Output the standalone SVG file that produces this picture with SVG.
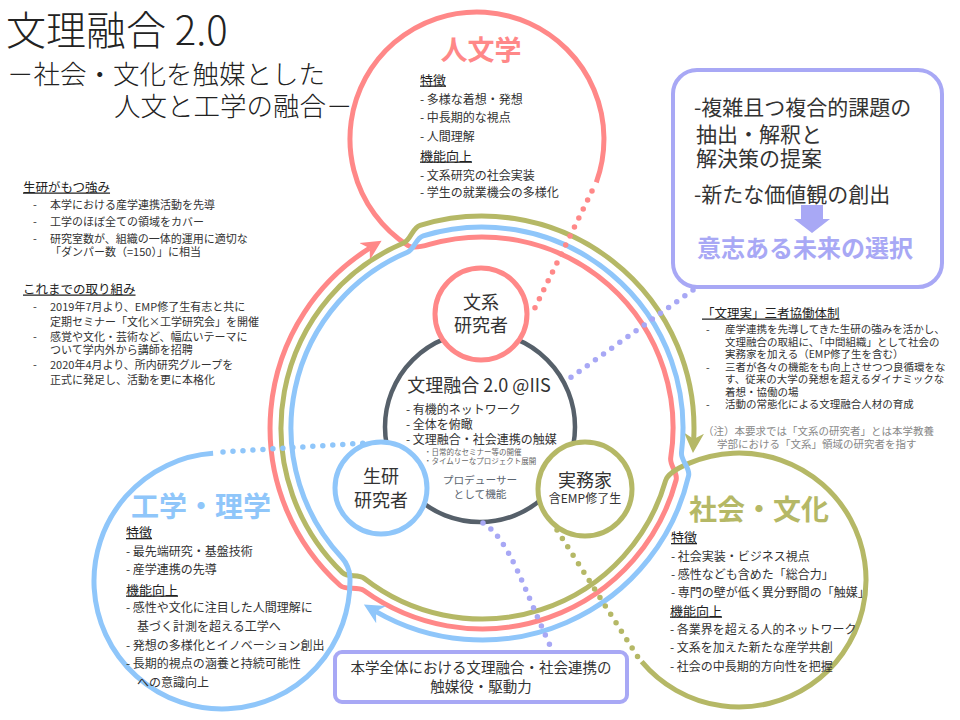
<svg xmlns="http://www.w3.org/2000/svg" width="960" height="720" viewBox="0 0 960 720">
<defs>
<style>
text{font-family:"Noto Sans CJK JP","Noto Sans",sans-serif;fill:#333}
.t{font-size:11px}
.h{font-size:12.5px;text-decoration:underline;fill:#222}
.s{font-size:12px}
.sh{font-size:13px;text-decoration:underline;fill:#222}
.sw{fill:none;stroke-width:5;stroke-linejoin:round}
.pk{stroke:#FF8888}
.gr{stroke:#B5B866}
.bl{stroke:#8FC6FA}
.lv{stroke:#A8A8F5}
.dot{fill:none;stroke-width:5.5;stroke-linecap:round;stroke-dasharray:0 10}
.lab{font-size:18px;text-anchor:middle;fill:#333}
.ttl{font-weight:300;fill:#222}
</style>
<marker id="ap" markerUnits="userSpaceOnUse" markerWidth="22" markerHeight="22" viewBox="0 0 22 22" refX="6" refY="11" orient="auto"><path d="M0,1 L20,11 L0,21 L6,11 Z" fill="#FF8888"/></marker>
<marker id="ag" markerUnits="userSpaceOnUse" markerWidth="22" markerHeight="22" viewBox="0 0 22 22" refX="6" refY="11" orient="auto"><path d="M0,1 L20,11 L0,21 L6,11 Z" fill="#B5B866"/></marker>
<marker id="ab" markerUnits="userSpaceOnUse" markerWidth="22" markerHeight="22" viewBox="0 0 22 22" refX="6" refY="11" orient="auto"><path d="M0,1 L20,11 L0,21 L6,11 Z" fill="#8FC6FA"/></marker>
</defs>
<rect width="960" height="720" fill="#fff"/>

<g id="title">
<text x="6" y="45" class="ttl" style="font-size:40px">文理融合 2.0</text>
<text x="7" y="84" class="ttl" style="font-size:26.5px">－社会・文化を触媒とした</text>
<text x="114" y="116" class="ttl" style="font-size:26.5px">人文と工学の融合－</text>
</g>

<g id="connectors">
<path class="sw pk" marker-end="url(#ap)" d="M596.3,182.4 A127,127 0 1 0 407.8,245.5 C412.8,248.8 423.6,246.1 429.4,244.4 A191,191 0 0 1 670.7,457.9 C669.5,465.8 678.2,472.3 676.1,480 A201,201 0 0 1 363.9,590.6 C357.4,585.9 346.1,590.9 340.2,585.5 A212,212 0 0 1 369.7,248.2"/>
<path class="sw gr" marker-end="url(#ag)" d="M641.7,661.6 A127,127 0 1 0 689.4,463.1 C680.2,467 667.8,472.9 665.6,480.6 A191,191 0 0 1 364.4,578.5 C358.1,573.6 348.2,578.2 342.4,572.6 A201,201 0 0 1 403.5,243 C410.9,239.9 412.3,227.6 420,225.3 A212,212 0 0 1 693.7,439.1"/>
<path class="sw bl" marker-end="url(#ab)" d="M213.1,453.3 A128,128 0 1 0 349.9,576.5 C349.7,570.5 346.4,562.7 342.3,558.3 A191,191 0 0 1 407.4,252.2 C414.8,249.1 415.5,238.1 423.2,235.8 A201,201 0 0 1 681.5,452.5 C680.5,460.4 690.4,467.9 688.6,475.7 A212,212 0 0 1 376,611.6"/>
<circle cx="480" cy="427" r="95" fill="none" stroke="#56606A" stroke-width="4.5"/>
<path class="dot pk" d="M592,191 L531,316"/>
<path class="dot bl" d="M223,452 L366,443"/>
<path class="dot lv" d="M693,290 L563,383"/>
<path class="dot lv" d="M483,523 C510,540 522,585 553,652"/>
<path class="dot gr" d="M557,530 L641,662"/>
</g>

<g id="humanities">
<text x="481" y="60" text-anchor="middle" style="font-size:27px;font-weight:bold;fill:#FF8888">人文学</text>
<text x="420" y="84.5" class="sh">特徴</text>
<text x="420" y="104" class="s">- 多様な着想・発想</text>
<text x="420" y="122" class="s">- 中長期的な視点</text>
<text x="420" y="141" class="s">- 人間理解</text>
<text x="420" y="160.5" class="sh">機能向上</text>
<text x="420" y="180" class="s">- 文系研究の社会実装</text>
<text x="420" y="197" class="s">- 学生の就業機会の多様化</text>
</g>

<g id="engineering">
<text x="201" y="517" text-anchor="middle" style="font-size:28px;font-weight:bold;fill:#8FC6FA">工学・理学</text>
<text x="126" y="537" class="sh">特徴</text>
<text x="126" y="556" class="s">- 最先端研究・基盤技術</text>
<text x="126" y="574" class="s">- 産学連携の先導</text>
<text x="126" y="594.5" class="sh">機能向上</text>
<text x="126" y="612" class="s">- 感性や文化に注目した人間理解に</text>
<text x="137" y="631" class="s">基づく計測を超える工学へ</text>
<text x="126" y="650" class="s">- 発想の多様化とイノベーション創出</text>
<text x="126" y="668" class="s">- 長期的視点の涵養と持続可能性</text>
<text x="137" y="687" class="s">への意識向上</text>
</g>

<g id="society">
<text x="759" y="520" text-anchor="middle" style="font-size:28px;font-weight:bold;fill:#B5B866">社会・文化</text>
<text x="671" y="542" class="sh">特徴</text>
<text x="671" y="561" class="s">- 社会実装・ビジネス視点</text>
<text x="671" y="579" class="s">- 感性なども含めた「総合力」</text>
<text x="671" y="597" class="s">- 専門の壁が低く異分野間の「触媒」</text>
<text x="670" y="615.5" class="sh">機能向上</text>
<text x="670" y="634" class="s">- 各業界を超える人的ネットワーク</text>
<text x="670" y="652" class="s">- 文系を加えた新たな産学共創</text>
<text x="670" y="671" class="s">- 社会の中長期的方向性を把握</text>
</g>

<g id="center">
<text x="479" y="391.5" text-anchor="middle" style="font-size:18px">文理融合 2.0 @IIS</text>
<text x="406" y="414" class="s">- 有機的ネットワーク</text>
<text x="406" y="428.5" class="s">- 全体を俯瞰</text>
<text x="406" y="444" class="s">- 文理融合・社会連携の触媒</text>
<text x="424" y="454.5" style="font-size:7.5px;fill:#666">・日常的なセミナー等の開催</text>
<text x="424" y="463.5" style="font-size:7.5px;fill:#666">・タイムリーなプロジェクト展開</text>
<text x="480" y="484" text-anchor="middle" style="font-size:10.7px;fill:#5B6570">プロデューサー</text>
<text x="480" y="497.5" text-anchor="middle" style="font-size:10.7px;fill:#5B6570">として機能</text>
</g>

<g id="bunkei">
<circle cx="481" cy="314" r="46" fill="#fff" stroke="#FF8888" stroke-width="5"/>
<text x="481" y="308.5" class="lab">文系</text>
<text x="481" y="331.5" class="lab">研究者</text>
</g>

<g id="seiken">
<circle cx="381" cy="488" r="46" fill="#fff" stroke="#8FC6FA" stroke-width="5"/>
<text x="381" y="483" class="lab">生研</text>
<text x="381" y="507" class="lab">研究者</text>
</g>

<g id="jitsumuka">
<circle cx="585" cy="489" r="47" fill="#fff" stroke="#B5B866" stroke-width="5"/>
<text x="585" y="486.5" class="lab">実務家</text>
<text x="585" y="503" text-anchor="middle" style="font-size:12px">含EMP修了生</text>
</g>

<g id="goal-box">
<rect x="673" y="70" width="269" height="217" rx="24" fill="#fff" stroke="#A8A8F5" stroke-width="4"/>
<text x="694" y="115" style="font-size:21px">-複雑且つ複合的課題の</text>
<text x="696" y="141.5" style="font-size:21px">抽出・解釈と</text>
<text x="696" y="166" style="font-size:21px">解決策の提案</text>
<text x="694" y="201.5" style="font-size:21px">-新たな価値観の創出</text>
<polygon points="801,205 823,205 823,219 830,219 812,233 794,219 801,219" fill="#A8A8F5"/>
<text x="805" y="257" text-anchor="middle" style="font-size:24px;font-weight:bold;fill:#A8A8F5">意志ある未来の選択</text>
</g>

<g id="bottom-box">
<rect x="335" y="652" width="292" height="50" rx="7" fill="#fff" stroke="#A8A8F5" stroke-width="4"/>
<text x="481" y="673" text-anchor="middle" style="font-size:14.5px">本学全体における文理融合・社会連携の</text>
<text x="481" y="692" text-anchor="middle" style="font-size:14.5px">触媒役・駆動力</text>
</g>

<g id="strengths">
<text x="23" y="191.5" class="h">生研がもつ強み</text>
<text x="33" y="209" class="t">-</text><text x="50" y="209" class="t">本学における産学連携活動を先導</text>
<text x="33" y="226" class="t">-</text><text x="50" y="226" class="t">工学のほぼ全ての領域をカバー</text>
<text x="33" y="243" class="t">-</text><text x="50" y="243" class="t">研究室数が、組織の一体的運用に適切な</text>
<text x="50" y="256" class="t">「ダンパー数（=150）」に相当</text>
<text x="23" y="293.5" class="h">これまでの取り組み</text>
<text x="33" y="311" class="t">-</text><text x="50" y="311" class="t">2019年7月より、EMP修了生有志と共に</text>
<text x="50" y="326" class="t">定期セミナー「文化×工学研究会」を開催</text>
<text x="33" y="341" class="t">-</text><text x="50" y="341" class="t">感覚や文化・芸術など、幅広いテーマに</text>
<text x="50" y="354" class="t">ついて学内外から講師を招聘</text>
<text x="33" y="369" class="t">-</text><text x="50" y="369" class="t">2020年4月より、所内研究グループを</text>
<text x="50" y="384" class="t">正式に発足し、活動を更に本格化</text>
</g>

<g id="system">
<text x="702" y="317.5" class="h">「文理実」三者協働体制</text>
<text x="706" y="333" style="font-size:10.5px">-</text>
<text x="725" y="333" style="font-size:10.5px">産学連携を先導してきた生研の強みを活かし、</text>
<text x="725" y="345.5" style="font-size:10.5px">文理融合の取組に、「中間組織」として社会の</text>
<text x="725" y="358" style="font-size:10.5px">実務家を加える（EMP修了生を含む）</text>
<text x="706" y="370.5" style="font-size:10.5px">-</text>
<text x="725" y="370.5" style="font-size:10.5px">三者が各々の機能をも向上させつつ良循環をな</text>
<text x="725" y="383" style="font-size:10.5px">す、従来の大学の発想を超えるダイナミックな</text>
<text x="725" y="395.5" style="font-size:10.5px">着想・協働の場</text>
<text x="706" y="408" style="font-size:10.5px">-</text>
<text x="725" y="408" style="font-size:10.5px">活動の常態化による文理融合人材の育成</text>
<text x="703" y="435" style="font-size:10.5px;fill:#888">（注）本要求では「文系の研究者」とは本学教養</text>
<text x="717" y="447.5" style="font-size:10.5px;fill:#888">学部における「文系」領域の研究者を指す</text>
</g>
</svg>
